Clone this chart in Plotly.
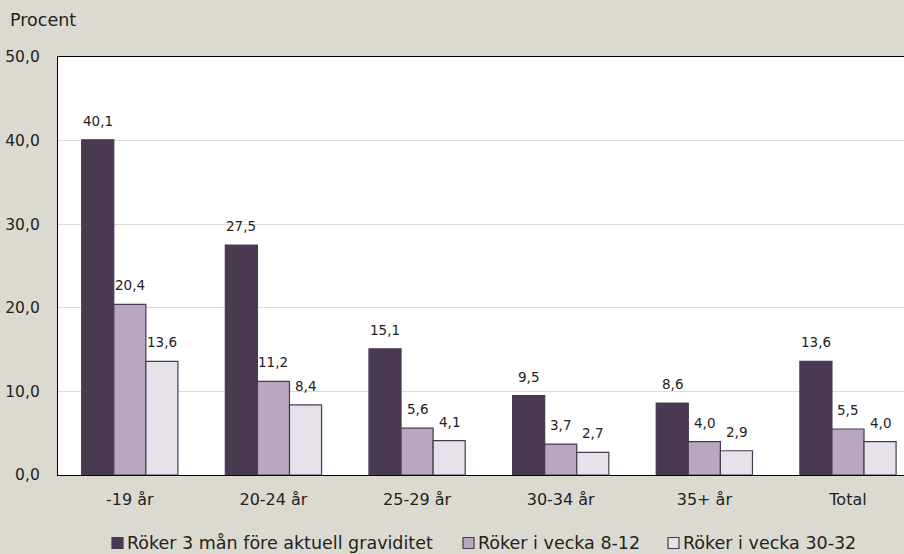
import plotly.graph_objects as go

categories = ["-19 år", "20-24 år", "25-29 år", "30-34 år", "35+ år", "Total"]
series_names = [
    "Röker 3 mån före aktuell graviditet",
    "Röker i vecka 8-12",
    "Röker i vecka 30-32",
]
before_pregnancy = [40.1, 27.5, 15.1, 9.5, 8.6, 13.6]
week_8_12 = [20.4, 11.2, 5.6, 3.7, 4.0, 5.5]
week_30_32 = [13.6, 8.4, 4.1, 2.7, 2.9, 4.0]

series_values = [before_pregnancy, week_8_12, week_30_32]
fill_colors = ["#4A3A51", "#B9A7C0", "#E7E1EA"]
outline = "#4A3A51"
bg = "#DCDAD0"
font_family = "'DejaVu Sans', sans-serif"
text_color = "#222222"

# plot-area geometry in pixels (used to place the hand-built legend)
W, H = 904, 554
L, R, T, B = 58, 0, 57, 79
PW, PH = W - L - R, H - T - B


def px_x(px):
    return (px - L) / PW


def px_y(py):
    return (H - B - py) / PH


bargap = 0.33
bar_w = (1 - bargap) / 3

fig = go.Figure()
for name, vals, col in zip(series_names, series_values, fill_colors):
    fig.add_trace(go.Bar(
        x=categories, y=vals, name=name,
        marker=dict(color=col, line=dict(color=outline, width=1.2)),
    ))

# value labels above each bar
for k, vals in enumerate(series_values):
    off = (k - 1) * bar_w
    for i, v in enumerate(vals):
        fig.add_annotation(
            x=i + off, y=v, xref="x", yref="y",
            text=f"{v:.1f}".replace(".", ","),
            showarrow=False, yanchor="bottom", yshift=9,
            font=dict(size=13.5, color=text_color, family=font_family),
        )

# axis title in the top-left corner
fig.add_annotation(
    x=px_x(8), y=px_y(20), xref="paper", yref="paper",
    text="Procent", showarrow=False, xanchor="left", yanchor="middle",
    font=dict(size=17.5, color=text_color, family=font_family),
)

# legend row: small outlined squares followed by the series names
legend_sq = [112, 463, 668]
legend_cy = 543
sq = 11
for name, col, x0 in zip(series_names, fill_colors, legend_sq):
    fig.add_shape(
        type="rect", xref="paper", yref="paper",
        x0=px_x(x0), x1=px_x(x0 + sq),
        y0=px_y(legend_cy + sq / 2), y1=px_y(legend_cy - sq / 2),
        fillcolor=col, line=dict(color=outline, width=1.2),
    )
    fig.add_annotation(
        x=px_x(x0 + sq + 2), y=px_y(legend_cy), xref="paper", yref="paper",
        text=name, showarrow=False, xanchor="left", yanchor="middle",
        font=dict(size=17.5, color=text_color, family=font_family),
    )

fig.update_layout(
    width=W, height=H,
    margin=dict(l=L, r=R, t=T, b=B),
    paper_bgcolor=bg, plot_bgcolor="white",
    barmode="group", bargap=bargap, bargroupgap=0,
    separators=", ",
    font=dict(family=font_family, size=16, color=text_color),
    showlegend=False,
    xaxis=dict(
        range=[-0.5, 5.39], showline=True, linecolor="#000", linewidth=1.3,
        mirror=True, ticks="", tickfont=dict(size=16, color=text_color),
        ticklabelstandoff=10,
    ),
    yaxis=dict(
        range=[0, 50], dtick=10, tickformat=".1f",
        showline=True, linecolor="#000", linewidth=1.3, mirror=True,
        showgrid=True, gridcolor="#DEDCD2", gridwidth=1,
        ticks="", ticklabelstandoff=14, zeroline=False,
        tickfont=dict(size=15.5, color=text_color),
    ),
)

fig.write_html("out.html")
